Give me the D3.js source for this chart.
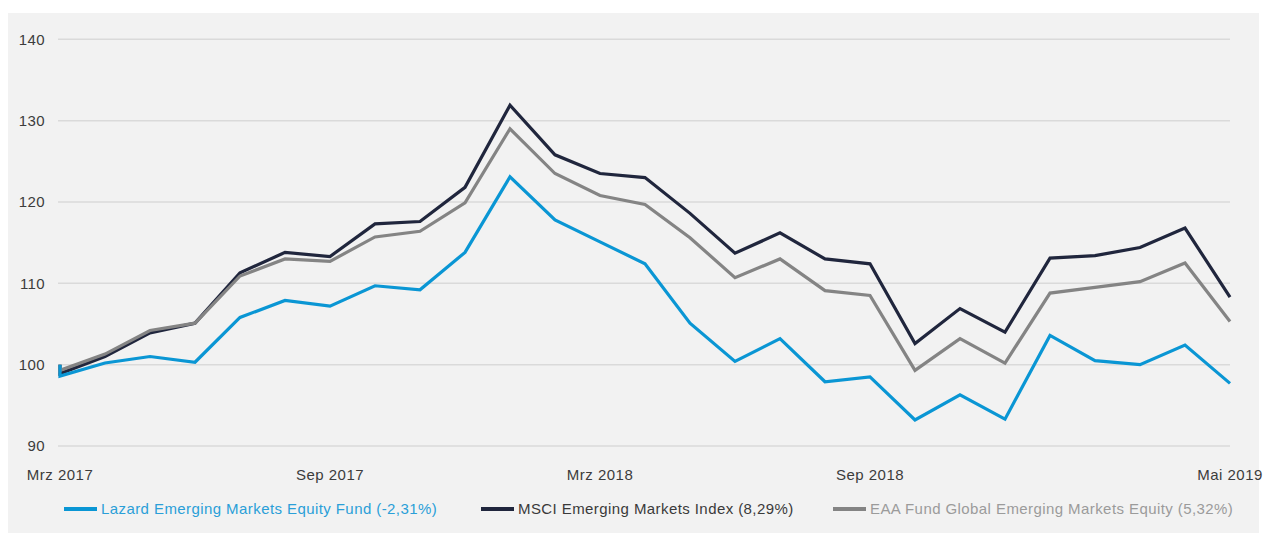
<!DOCTYPE html>
<html>
<head>
<meta charset="utf-8">
<script src="https://cdn.jsdelivr.net/npm/d3@7"></script>
<style>
  html, body { margin: 0; padding: 0; background: #ffffff; }
  svg { display: block; font-family: "Liberation Sans", Arial, sans-serif; }
</style>
</head>
<body>
<svg id="chart" width="1271" height="533"></svg>
<script>
var width = 1271;
var height = 533;

// values, one per month (Mrz 2017 .. Mai 2019)
var monthCount = 27;
var startValue = 100;
var lazard = [98.6, 100.2, 101.0, 100.3, 105.8, 107.9, 107.2, 109.7, 109.2, 113.8, 123.1, 117.8, 115.1, 112.4,
    105.1, 100.4, 103.2, 97.9, 98.5, 93.2, 96.3, 93.3, 103.6, 100.5, 100.0, 102.4, 97.7];
var msci = [98.9, 101.0, 103.9, 105.1, 111.3, 113.8, 113.3, 117.3, 117.6, 121.8, 131.9, 125.8, 123.5, 123.0,
    118.6, 113.7, 116.2, 113.0, 112.4, 102.6, 106.9, 104.0, 113.1, 113.4, 114.4, 116.8, 108.3];
var eaa = [99.3, 101.3, 104.2, 105.1, 110.9, 113.0, 112.7, 115.7, 116.4, 119.9, 129.0, 123.5, 120.8, 119.7,
    115.6, 110.7, 113.0, 109.1, 108.5, 99.3, 103.2, 100.2, 108.8, 109.5, 110.2, 112.5, 105.3];

var xTickIndex = [0, 6, 12, 18, 26];
var xTickLabels = ["Mrz 2017", "Sep 2017", "Mrz 2018", "Sep 2018", "Mai 2019"];
var yTicks = [90, 100, 110, 120, 130, 140];

var seriesNames = ["Lazard Emerging Markets Equity Fund (-2,31%)", "MSCI Emerging Markets Index (8,29%)",
    "EAA Fund Global Emerging Markets Equity (5,32%)"];
var seriesColors = ["#0a96d4", "#20263d", "#848484"];
var legendTextColors = ["#2a9fd8", "#3a3a3a", "#9b9b9b"];

var svg = d3.select("#chart");

// grey panel
svg.append("rect")
    .attr("x", 8).attr("y", 13)
    .attr("width", 1251).attr("height", height - 13)
    .attr("fill", "#f2f2f2");

var x = d3.scaleLinear().domain([0, monthCount - 1]).range([60, 1230]);
var y = d3.scaleLinear().domain([90, 140]).range([446, 39.3]);

// gridlines + y labels
var grid = svg.append("g");
yTicks.forEach(function(t) {
    grid.append("line")
        .attr("x1", 58).attr("x2", 1230)
        .attr("y1", y(t)).attr("y2", y(t))
        .attr("stroke", "#dadada")
        .attr("stroke-width", 1.5);
    grid.append("text")
        .attr("x", 45).attr("y", y(t))
        .attr("dy", "0.35em")
        .attr("text-anchor", "end")
        .attr("font-size", "15px")
        .attr("letter-spacing", "0.4px")
        .attr("fill", "#3c3c3c")
        .text(t);
});

// x labels
xTickIndex.forEach(function(idx, k) {
    svg.append("text")
        .attr("x", x(idx)).attr("y", 480)
        .attr("text-anchor", "middle")
        .attr("font-size", "15px")
        .attr("letter-spacing", "0.5px")
        .attr("fill", "#3c3c3c")
        .text(xTickLabels[k]);
});

function toPoints(values) {
    // index start at 100, then the monthly values
    var pts = [[0, startValue]];
    values.forEach(function(v, i) { pts.push([i, v]); });
    return pts;
}

var line = d3.line()
    .x(function(d) { return x(d[0]); })
    .y(function(d) { return y(d[1]); });

// draw order: MSCI, EAA, Lazard on top
var drawOrder = [1, 2, 0];
var allSeries = [lazard, msci, eaa];
drawOrder.forEach(function(s) {
    svg.append("path")
        .datum(toPoints(allSeries[s]))
        .attr("d", line)
        .attr("fill", "none")
        .attr("stroke", seriesColors[s])
        .attr("stroke-width", 3.2)
        .attr("stroke-linejoin", "miter")
        .attr("stroke-miterlimit", 10);
});

// legend
var legendX = [64, 481, 833];
var legend = svg.append("g");
seriesNames.forEach(function(name, s) {
    legend.append("line")
        .attr("x1", legendX[s]).attr("x2", legendX[s] + 33)
        .attr("y1", 509).attr("y2", 509)
        .attr("stroke", seriesColors[s])
        .attr("stroke-width", 4);
    legend.append("text")
        .attr("x", legendX[s] + 37).attr("y", 509)
        .attr("dy", "0.35em")
        .attr("font-size", "15px")
        .attr("letter-spacing", "0.42px")
        .attr("fill", legendTextColors[s])
        .text(name);
});
</script>
</body>
</html>
